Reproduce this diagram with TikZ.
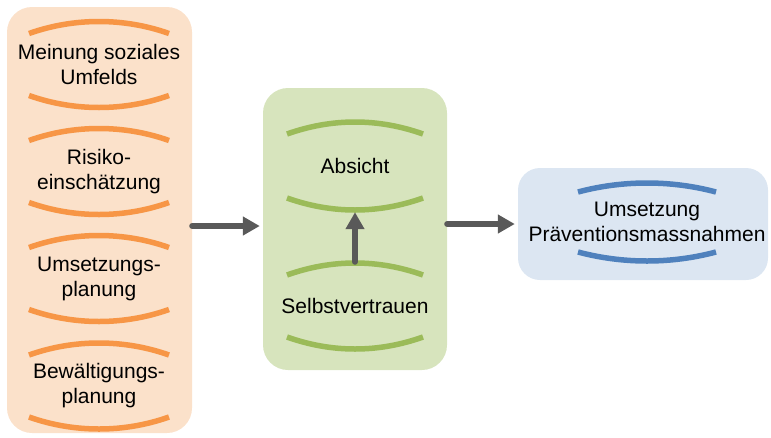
\documentclass[tikz,border=0pt]{standalone}
\usepackage{fontspec}
\setmainfont{Liberation Sans}
\usepackage{tikz}
\usetikzlibrary{calc}
\usetikzlibrary{arrows.meta}
\usepackage{xcolor}
\definecolor{orangehell}{HTML}{FBE1CA}
\definecolor{orangedunkel}{HTML}{F79646}
\definecolor{gruenhell}{HTML}{D7E4BD}
\definecolor{gruendunkel}{HTML}{9BBB59}
\definecolor{blauhell}{HTML}{DCE6F2}
\definecolor{blaudunkel}{HTML}{4F81BD}
\definecolor{pfeilgrau}{HTML}{595959}
\tikzstyle{kasten}=[rounded corners=25,inner sep=0]
\tikzstyle{eintrag}=[align=center,inner sep=0,minimum height=88,font=\fontsize{21}{25}\selectfont]
\tikzstyle{pfeil}=[draw=pfeilgrau,line width=6,line cap=round,-{Triangle[length=17,width=18]}]
\newcommand{\klammer}[5]{%
\draw[#2,line width=5.5] ($(#1)+(-#3,-#4)$) .. controls ($(#1)+({-#3+45},{-#4-#5*4/3})$) and ($(#1)+({#3-45},{-#4-#5*4/3})$) .. ($(#1)+(#3,-#4)$);
\draw[#2,line width=5.5] ($(#1)+(-#3,#4)$) .. controls ($(#1)+({-#3+45},{#4+#5*4/3})$) and ($(#1)+({#3-45},{#4+#5*4/3})$) .. ($(#1)+(#3,#4)$);
}

\begin{document}
\begin{tikzpicture}[x=1pt,y=-1pt]
\useasboundingbox (0,0) rectangle (771,437);

\node[kasten,fill=orangehell,minimum width=185,minimum height=426] (links) at (99.5,220) {};
\node[kasten,fill=gruenhell,minimum width=184,minimum height=282] (mitte) at (355,229) {};
\node[kasten,rounded corners=22,fill=blauhell,minimum width=250,minimum height=112] (rechts) at (643,224) {};

\node[eintrag] (m1) at (99,64.5) {Meinung soziales\\Umfelds};
\node[eintrag] (m2) at (99,171.5) {Risiko-\\einschätzung};
\node[eintrag] (m3) at (99,278.5) {Umsetzungs-\\planung};
\node[eintrag] (m4) at (99,386) {Bewältigungs-\\planung};
\klammer{m1}{orangedunkel}{70}{31}{12}
\klammer{m2}{orangedunkel}{70}{31}{12}
\klammer{m3}{orangedunkel}{70}{31}{12}
\klammer{m4}{orangedunkel}{70}{31}{12}

\node[eintrag] (abs) at (355,166) {Absicht};
\node[eintrag] (selbst) at (355,306) {Selbstvertrauen};
\klammer{abs}{gruendunkel}{68}{32}{12}
\klammer{selbst}{gruendunkel}{68}{31}{12}
\draw[pfeil,shorten >=2] (selbst.north) -- (abs.south);

\node[eintrag] (umsetz) at (647,222) {Umsetzung\\Präventionsmassnahmen};
\klammer{umsetz}{blaudunkel}{69}{30}{9}

\coordinate (ein) at ([yshift=3pt]mitte.west);
\draw[pfeil,shorten >=3] (links.east |- ein) -- (ein);
\draw[pfeil,shorten >=3] (mitte.east |- rechts.west) -- (rechts.west);
\end{tikzpicture}
\end{document}
